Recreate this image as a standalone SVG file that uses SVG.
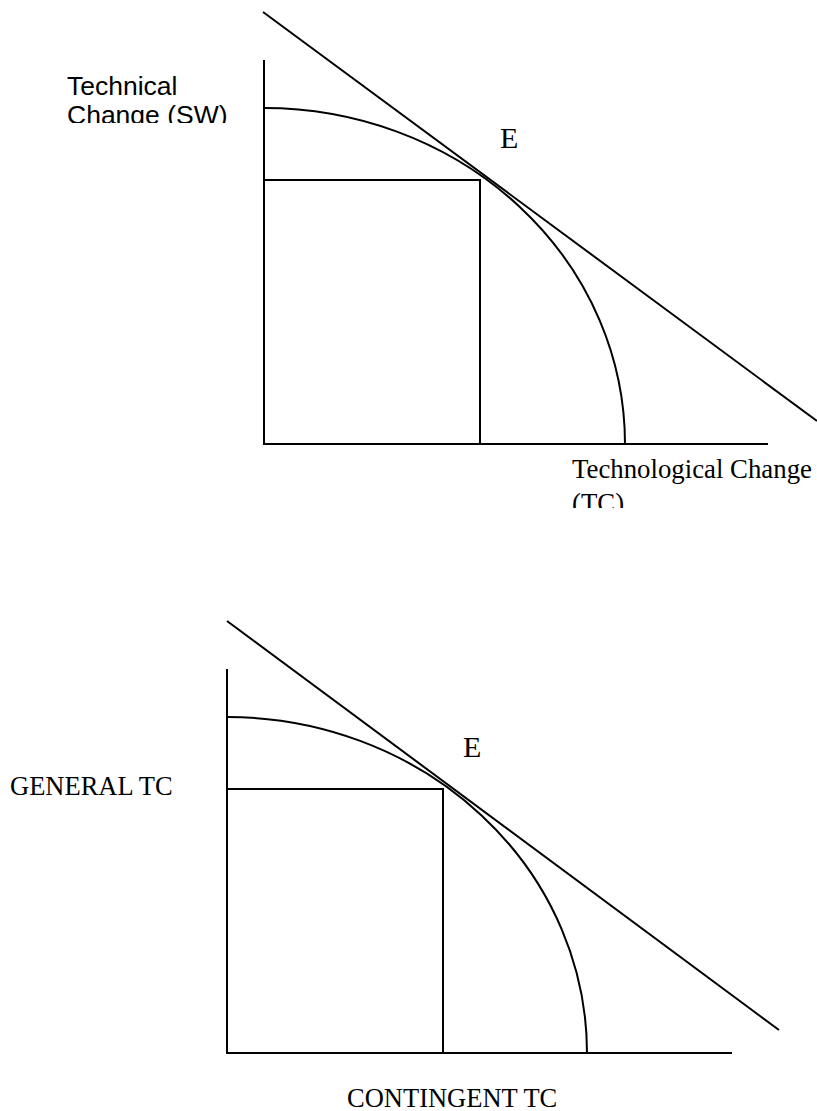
<svg xmlns="http://www.w3.org/2000/svg" width="817" height="1111" viewBox="0 0 817 1111">
<defs>
<style>
.ln{fill:none;stroke:#000;stroke-width:2}
.serif{font-family:"Liberation Serif","Times New Roman",serif;fill:#000}
.sans{font-family:"Liberation Sans",Arial,sans-serif;fill:#000}
</style>
<clipPath id="clipSW"><rect x="0" y="0" width="260" height="123"/></clipPath>
<clipPath id="clipTC"><rect x="540" y="440" width="277" height="68"/></clipPath>
</defs>
<rect width="817" height="1111" fill="#fff"/>
<g id="top-diagram">
<g id="top-axes">
<path class="ln" d="M264,60 V444 H768"/>
</g>
<g id="top-rect"><path class="ln" d="M264,180 H480 V444"/></g>
<g id="top-curve"><path class="ln" d="M264,108 A361,336 0 0 1 625,444"/></g>
<g id="top-tangent"><path class="ln" d="M263,12 L817,421"/></g>
<g id="top-labels">
<g clip-path="url(#clipSW)">
<text class="sans" x="67" y="95" font-size="26.5">Technical</text>
<text class="sans" x="67" y="124" font-size="26.5">Change (SW)</text>
</g>
<text class="serif" x="500" y="148" font-size="30">E</text>
<g clip-path="url(#clipTC)">
<text class="serif" x="572" y="478" font-size="26.8">Technological Change</text>
<text class="serif" x="572" y="512" font-size="26.8">(TC)</text>
</g>
</g>
</g>
<g id="bottom-diagram">
<g id="bottom-axes"><path class="ln" d="M227,669 V1053 H732"/></g>
<g id="bottom-rect"><path class="ln" d="M227,789 H443 V1053"/></g>
<g id="bottom-curve"><path class="ln" d="M227,717 A360,336 0 0 1 587,1053"/></g>
<g id="bottom-tangent"><path class="ln" d="M227,621 L779,1030"/></g>
<g id="bottom-labels">
<text class="serif" x="463" y="757" font-size="30">E</text>
<text class="serif" x="10" y="795" font-size="26.5">GENERAL TC</text>
<text class="serif" x="347" y="1107" font-size="26.5">CONTINGENT TC</text>
</g>
</g>
</svg>
